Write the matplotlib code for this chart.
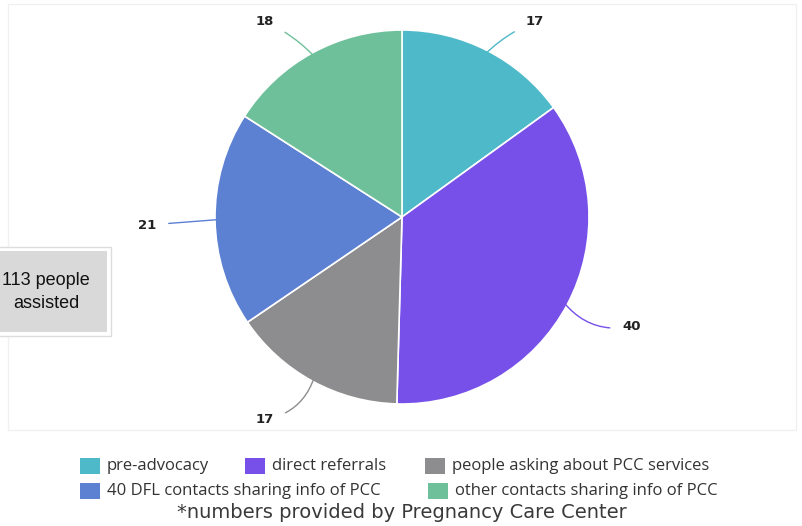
import matplotlib
matplotlib.use("Agg")
import matplotlib.pyplot as plt
from matplotlib.patches import Rectangle
import numpy as np

W, H = 803, 526

labels = ["pre-advocacy", "direct referrals", "people asking about PCC services",
          "40 DFL contacts sharing info of PCC", "other contacts sharing info of PCC"]
values = [17, 40, 17, 21, 18]
colors = ["#4DB9C9", "#7650E8", "#8D8D8F", "#5C80D2", "#6EC09A"]

# label offsets in points, relative to the slice edge at its mid angle
label_offsets = [(29, 23), (42, -17), (-29, -30), (-45, -4), (-29, 25)]
curve = [0.1, -0.3, 0.3, 0.0, -0.1]

fig = plt.figure(figsize=(W / 100, H / 100), dpi=100)

# faint plot frame
bg = fig.add_axes([0, 0, 1, 1])
bg.set_xlim(0, W)
bg.set_ylim(H, 0)
bg.axis("off")
bg.add_patch(Rectangle((8, 4), 788, 426, fill=False, ec="#F0F0F0", lw=1))

cx, cy, r = 402, 217, 187
ax = fig.add_axes([(cx - r) / W, (H - cy - r) / H, 2 * r / W, 2 * r / H])
wedges, _ = ax.pie(values, colors=colors, startangle=90, counterclock=False,
                   radius=1, wedgeprops=dict(edgecolor="white", linewidth=1.2))
ax.set_xlim(-1, 1)
ax.set_ylim(-1, 1)
ax.set_aspect("equal")
ax.axis("off")

for w, v, c, off, rad in zip(wedges, values, colors, label_offsets, curve):
    ang = np.deg2rad((w.theta1 + w.theta2) / 2)
    x, y = 0.98 * np.cos(ang), 0.98 * np.sin(ang)
    ha = "left" if off[0] > 0 else "right"
    ax.annotate(str(v), xy=(x, y), xytext=off, textcoords="offset points",
                ha=ha, va="center", fontsize=9.5, fontweight="bold", color="#222222",
                annotation_clip=False,
                arrowprops=dict(arrowstyle="-", color=c, lw=1.0,
                                shrinkA=7, shrinkB=0,
                                connectionstyle=f"arc3,rad={rad}"))

# "113 people assisted" box
bg.add_patch(Rectangle((-10, 247), 121, 89, fc="white", ec="#DDDDDD", lw=1))
bg.add_patch(Rectangle((-10, 251), 117, 81, fc="#D9D9D9", ec="none"))
bg.text(46, 292, "113 people\nassisted", ha="center", va="center", fontsize=13,
        family="Liberation Sans", color="#111111", linespacing=1.4)

# legend
fs = 12
leg_fam = "Open Sans"
row1 = [(80, 0), (245, 1), (425, 2)]
row2 = [(80, 3), (428, 4)]
for yy, row in [(466, row1), (491, row2)]:
    for xx, i in row:
        bg.add_patch(Rectangle((xx, yy - 8), 20, 16, fc=colors[i], ec="none"))
        bg.text(xx + 27, yy, labels[i], ha="left", va="center", fontsize=fs,
                family=leg_fam, color="#333333")
bg.text(402, 513, "*numbers provided by Pregnancy Care Center", ha="center",
        va="center", fontsize=14, family="DejaVu Sans", color="#3a3a3a")

fig.savefig("out.png", dpi=100)
